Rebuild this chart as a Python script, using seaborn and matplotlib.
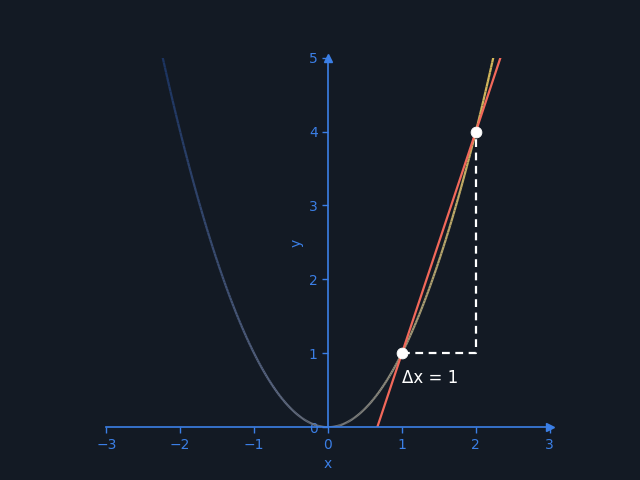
import matplotlib.pyplot as plt
import numpy as np
import seaborn as sns
from matplotlib.collections import LineCollection
from matplotlib.colors import LinearSegmentedColormap

# curve y = x^2 and the secant through two points on it
x_curve = np.linspace(-np.sqrt(5), np.sqrt(5), 300)
y_curve = x_curve ** 2
p_x = [1, 2]
p_y = [1, 4]
secant_x = [2 / 3, 7 / 3]
secant_y = [0, 5]
dx_label = "Δx = 1"
x_ticks = [-3, -2, -1, 0, 1, 2, 3]
y_ticks = [0, 1, 2, 3, 4, 5]

bg = "#131a24"
axis_col = "#3b7fe6"

sns.set_theme(style="white")
plt.rcParams["font.family"] = ["DejaVu Sans"]

fig, ax = plt.subplots(figsize=(6.4, 4.8), dpi=100)
fig.patch.set_facecolor(bg)
ax.set_facecolor(bg)

# gradient parabola
cmap = LinearSegmentedColormap.from_list("grad", ["#1c3461", "#5a6680", "#8c8a7e", "#d4b85a"])
pts = np.column_stack([x_curve, y_curve]).reshape(-1, 1, 2)
segs = np.concatenate([pts[:-1], pts[1:]], axis=1)
lc = LineCollection(segs, cmap=cmap, linewidth=1.6)
lc.set_array((x_curve[:-1] + x_curve[1:]) / 2)
lc.set_clim(-np.sqrt(5), np.sqrt(5))
ax.add_collection(lc)

# secant
sns.lineplot(x=secant_x, y=secant_y, color="#f2685a", linewidth=1.6, ax=ax)

# delta x / delta y guides
ax.plot([p_x[0], p_x[1], p_x[1]], [p_y[0], p_y[0], p_y[1]], color="white",
        linestyle=(0, (3.5, 2.5)), linewidth=1.6, zorder=3)
sns.scatterplot(x=p_x, y=p_y, color="white", s=60, edgecolor="white", zorder=4, ax=ax)
ax.text(p_x[0], 0.67, dx_label, color="white", fontsize=12, ha="left", va="center")

# centered axes with arrows
ax.set_xlim(-3.355, 3.355)
ax.set_ylim(0, 5)
ax.set_aspect("equal")
ax.spines["left"].set_position(("data", 0))
ax.spines["bottom"].set_position(("data", 0))
ax.spines["right"].set_visible(False)
ax.spines["top"].set_visible(False)
ax.spines["bottom"].set_bounds(-3, 3)
for s in ["left", "bottom"]:
    ax.spines[s].set_color(axis_col)
    ax.spines[s].set_linewidth(1.2)
ax.plot(3, 0, ">", color=axis_col, markersize=6, clip_on=False, zorder=5)
ax.plot(0, 5, "^", color=axis_col, markersize=6, clip_on=False, zorder=5)

ax.set_xticks(x_ticks)
ax.set_yticks(y_ticks)
ax.tick_params(colors=axis_col, labelcolor=axis_col, direction="out", length=4,
               width=1, bottom=True, left=True, labelsize=10)
ax.set_xlabel("x", color=axis_col, fontsize=10, labelpad=4)
ax.set_ylabel("y", color=axis_col, fontsize=10)
ax.yaxis.set_label_coords(0.45, 0.5)

fig.subplots_adjust(left=0.125, right=0.9, bottom=0.11, top=0.88)
fig.savefig("out.png", dpi=100, facecolor=bg)
